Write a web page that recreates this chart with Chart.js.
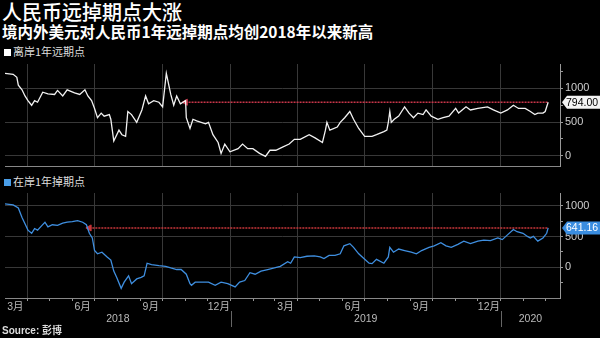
<!DOCTYPE html>
<html>
<head>
<meta charset="utf-8">
<script src="https://cdn.jsdelivr.net/npm/chart.js@4.4.1/dist/chart.umd.min.js"></script>
<style>
  body { margin: 0; background: #000; }
  #wrap { position: relative; width: 600px; height: 338px; background: #000; overflow: hidden;
          font-family: 'Noto Sans CJK SC', sans-serif; color: #fff; }
  .t { position: absolute; left: 2px; white-space: nowrap; }
  #title { top: 0; font-size: 20px; line-height: 24px; font-weight: 500; }
  #sub { top: 22px; font-size: 15.5px; line-height: 18px; font-weight: 700; }
  .leg { font-size: 11px; line-height: 12px; color: #ddd; left: 4px; }
  .leg i { display: inline-block; width: 7px; height: 7px; margin-right: 2px; vertical-align: 0; }
  #src { top: 325px; font-size: 10px; line-height: 12px; font-weight: 700; color: #ddd;
         font-family: 'Liberation Sans', 'Noto Sans CJK SC', sans-serif; }
  canvas { position: absolute; left: 0; }
</style>
</head>
<body>
<div id="wrap">
  <div class="t" id="title">人民币远掉期点大涨</div>
  <div class="t" id="sub">境内外美元对人民币1年远掉期点均创2018年以来新高</div>
  <div class="t leg" style="top:45px"><i style="background:#fff"></i>离岸1年远期点</div>
  <div class="t leg" style="top:175px"><i style="background:#4a9ee8"></i>在岸1年掉期点</div>
  <canvas id="top" width="600" height="112" style="top:59px"></canvas>
  <canvas id="bottom" width="600" height="150" style="top:188px"></canvas>
  <div class="t" id="src">Source: 彭博</div>
</div>
<script>
// x range of the panels
const xStart = '2018-03-02';
const xEnd = '2020-03-21';

// 离岸1年远期点 (offshore)
const offDates = ['2018-03-02','2018-03-13','2018-03-18','2018-03-20','2018-03-25','2018-03-29','2018-04-02','2018-04-07','2018-04-11','2018-04-15','2018-04-22','2018-04-29','2018-05-08','2018-05-12','2018-05-19','2018-05-25','2018-06-04','2018-06-11','2018-06-18','2018-06-22','2018-06-27','2018-07-01','2018-07-05','2018-07-10','2018-07-14','2018-07-21','2018-07-23','2018-07-27','2018-08-03','2018-08-07','2018-08-12','2018-08-15','2018-08-20','2018-08-27','2018-09-03','2018-09-08','2018-09-12','2018-09-19','2018-09-26','2018-10-01','2018-10-06','2018-10-12','2018-10-16','2018-10-20','2018-10-25','2018-11-01','2018-11-02','2018-11-07','2018-11-11','2018-11-16','2018-11-28','2018-12-02','2018-12-08','2018-12-15','2018-12-19','2018-12-24','2018-12-31','2019-01-11','2019-01-17','2019-01-24','2019-01-31','2019-02-09','2019-02-17','2019-02-23','2019-03-03','2019-03-12','2019-03-21','2019-03-28','2019-04-05','2019-04-17','2019-04-25','2019-05-05','2019-05-09','2019-05-11','2019-05-15','2019-05-25','2019-05-29','2019-06-04','2019-06-11','2019-06-16','2019-06-23','2019-07-01','2019-07-11','2019-07-17','2019-07-27','2019-07-31','2019-08-02','2019-08-04','2019-08-06','2019-08-10','2019-08-16','2019-08-20','2019-08-24','2019-08-30','2019-09-05','2019-09-11','2019-09-18','2019-09-22','2019-09-29','2019-10-08','2019-10-15','2019-10-23','2019-11-01','2019-11-05','2019-11-15','2019-11-21','2019-12-01','2019-12-14','2019-12-22','2020-01-01','2020-01-10','2020-01-18','2020-01-25','2020-02-03','2020-02-10','2020-02-16','2020-02-20','2020-02-27','2020-03-01','2020-03-05'];
const offValues = [1221,1208,1162,1047,978,887,818,749,818,794,942,918,909,969,887,978,932,909,978,887,818,702,565,633,588,611,542,220,381,313,289,657,611,496,680,887,771,818,794,726,1221,909,749,887,771,818,565,405,542,519,473,496,313,198,37,175,61,106,175,106,106,37,-8,83,83,129,175,244,244,313,267,198,381,496,381,427,496,565,657,542,405,289,289,313,358,381,496,657,496,542,588,657,726,633,565,633,611,680,588,542,565,588,702,633,726,680,702,726,680,633,680,749,702,702,657,611,633,633,657,794];

// 在岸1年掉期点 (onshore)
const onDates = ['2018-03-02','2018-03-13','2018-03-20','2018-03-25','2018-03-29','2018-04-02','2018-04-07','2018-04-11','2018-04-15','2018-04-21','2018-04-25','2018-04-29','2018-05-05','2018-05-12','2018-05-19','2018-05-25','2018-06-01','2018-06-08','2018-06-15','2018-06-20','2018-06-24','2018-06-28','2018-07-01','2018-07-05','2018-07-11','2018-07-18','2018-07-23','2018-07-27','2018-07-31','2018-08-06','2018-08-10','2018-08-16','2018-08-20','2018-08-27','2018-09-02','2018-09-06','2018-09-10','2018-09-16','2018-09-26','2018-10-05','2018-10-12','2018-10-20','2018-10-26','2018-11-02','2018-11-07','2018-11-09','2018-11-14','2018-11-22','2018-12-02','2018-12-11','2018-12-19','2018-12-28','2019-01-07','2019-01-13','2019-01-20','2019-01-27','2019-02-03','2019-02-11','2019-02-20','2019-03-01','2019-03-09','2019-03-19','2019-03-23','2019-03-28','2019-04-05','2019-04-14','2019-04-24','2019-05-02','2019-05-07','2019-05-14','2019-05-22','2019-05-29','2019-06-03','2019-06-11','2019-06-16','2019-06-23','2019-06-30','2019-07-07','2019-07-11','2019-07-17','2019-07-27','2019-08-02','2019-08-04','2019-08-09','2019-08-16','2019-08-24','2019-09-02','2019-09-09','2019-09-16','2019-09-26','2019-10-03','2019-10-12','2019-10-19','2019-10-26','2019-11-04','2019-11-12','2019-11-21','2019-12-01','2019-12-09','2019-12-18','2019-12-28','2020-01-03','2020-01-10','2020-01-18','2020-01-23','2020-01-31','2020-02-06','2020-02-10','2020-02-14','2020-02-20','2020-02-27','2020-03-03','2020-03-05'];
const onValues = [1032,1016,965,812,708,605,554,631,605,682,734,657,693,682,719,734,744,759,734,693,554,477,273,220,246,169,118,-62,-165,-343,-242,-139,-266,-189,-165,-139,66,42,26,15,-11,-36,-36,-113,-266,-293,-242,-242,-242,-293,-242,-266,-319,-242,-216,-88,-113,-62,-36,-11,15,92,66,169,159,180,185,169,143,195,195,220,350,385,324,220,143,66,60,130,66,169,324,246,297,273,246,220,273,324,350,400,350,324,374,426,385,426,442,436,477,451,528,616,580,554,503,477,503,426,477,554,641.16];

// red reference arrows (2018 high level reached again)
const offArrowDates = ['2018-11-01', '2020-03-05'];
const offArrowValue = 794;
const onArrowDates = ['2018-06-24', '2020-03-05'];
const onArrowValue = 641.16;

// axis labels
const monthLabels = ['3月','6月','9月','12月','3月','6月','9月','12月'];
const monthLabelDates = ['2018-03-16','2018-06-15','2018-09-15','2018-12-16','2019-03-16','2019-06-15','2019-09-15','2019-12-16'];
const yearLabels = ['2018', '2019', '2020'];
const yTicksTop = [0, 250, 500, 750, 1000, 1250];
const yTicksBottom = [-250, 0, 250, 500, 750, 1000];

const BASE = Date.UTC(2018, 0, 1);
function day(s) {
  const [y, m, d] = s.split('-').map(Number);
  return (Date.UTC(y, m - 1, d) - BASE) / 86400000;
}

// month starts inside the range (tick marks), quarters get a grid line
const monthStarts = [];
for (let y = 2018; y <= 2020; y++) {
  for (let m = 1; m <= 12; m++) {
    const v = (Date.UTC(y, m - 1, 1) - BASE) / 86400000;
    if (v > day(xStart) && v < day(xEnd)) monthStarts.push({ v: v, q: (m - 1) % 3 === 0 });
  }
}
const quarterDays = monthStarts.filter(t => t.q).map(t => t.v);

const latin = "'Liberation Sans', 'Noto Sans CJK SC', sans-serif";
const gridColor = '#383838';

function pts(dates, values) {
  return dates.map((d, i) => ({ x: day(d), y: values[i] }));
}

function yAxis(min, max, ticks) {
  return {
    position: 'right', min: min, max: max,
    afterBuildTicks: s => { s.ticks = ticks.map(v => ({ value: v })); },
    afterFit: s => { s.width = 40; s.paddingTop = 0; s.paddingBottom = 0; },
    grid: {
      color: c => (c.tick && c.tick.value % 500 === 0) ? gridColor : 'rgba(0,0,0,0)',
      tickColor: '#999', tickLength: 3
    },
    border: { color: '#999' },
    ticks: {
      autoSkip: false, color: '#ccc', padding: 2,
      font: { family: latin, size: 11 },
      callback: v => v % 500 === 0 ? v : ''
    }
  };
}

function arrowSet(dates, value, color) {
  return {
    data: dates.map(d => ({ x: day(d), y: value })),
    borderColor: color, borderWidth: 1.5, borderDash: [2, 1],
    pointRadius: [3.5, 0], pointStyle: 'triangle', pointRotation: -90,
    pointBorderColor: color, pointBackgroundColor: color, pointBorderWidth: 1
  };
}

// value tag at the right end of the last point
const tagPlugin = {
  id: 'tag',
  afterDraw(chart, args, opts) {
    const d = chart.data.datasets[0].data;
    const last = d[d.length - 1].y;
    const ctx = chart.ctx;
    const y = chart.scales.y.getPixelForValue(last);
    const x0 = chart.scales.y.left + 2;
    ctx.save();
    ctx.fillStyle = opts.bg;
    ctx.beginPath();
    ctx.moveTo(x0, y);
    ctx.lineTo(x0 + 5, y - 6.5);
    ctx.lineTo(chart.width, y - 6.5);
    ctx.lineTo(chart.width, y + 6.5);
    ctx.lineTo(x0 + 5, y + 6.5);
    ctx.closePath();
    ctx.fill();
    ctx.fillStyle = opts.fg;
    ctx.font = '10.5px ' + latin;
    ctx.textBaseline = 'middle';
    ctx.fillText(last.toFixed(2), x0 + 4, y + 0.5);
    ctx.restore();
  }
};

// year row under the month labels
const yearRow = {
  id: 'yearRow',
  afterDraw(chart) {
    const s = chart.scales.x, ctx = chart.ctx, b = chart.chartArea.bottom;
    ctx.save();
    ctx.fillStyle = '#bbb';
    ctx.strokeStyle = '#666';
    ctx.lineWidth = 1;
    ctx.font = '10.5px ' + latin;
    ctx.textAlign = 'center';
    ctx.textBaseline = 'middle';
    yearLabels.forEach(y => {
      const a = Math.max(day(y + '-01-01'), s.min);
      const e = Math.min(day((+y + 1) + '-01-01'), s.max);
      ctx.fillText(y, s.getPixelForValue((a + e) / 2), b + 21);
      if (day(y + '-01-01') > s.min) {
        const px = Math.round(s.getPixelForValue(day(y + '-01-01'))) + 0.5;
        ctx.beginPath();
        ctx.moveTo(px, b + 13);
        ctx.lineTo(px, b + 29);
        ctx.stroke();
      }
    });
    ctx.restore();
  }
};

const common = {
  responsive: false,
  animation: false,
  layout: { padding: 0 },
  plugins: { legend: { display: false }, tooltip: { enabled: false } },
  elements: { line: { tension: 0 }, point: { radius: 0 } }
};

new Chart(document.getElementById('top'), {
  type: 'line',
  data: {
    datasets: [
      { data: pts(offDates, offValues), borderColor: '#f2f2f2', borderWidth: 1.3, pointRadius: 0 },
      arrowSet(offArrowDates, offArrowValue, '#c8364a')
    ]
  },
  options: Object.assign({}, common, {
    plugins: Object.assign({}, common.plugins, { tag: { bg: '#f4f4f4', fg: '#000' } }),
    scales: {
      x: {
        type: 'linear', min: day(xStart), max: day(xEnd),
        afterBuildTicks: s => { s.ticks = quarterDays.map(v => ({ value: v })); },
        afterFit: s => { s.height = 1; s.paddingLeft = 0; s.paddingRight = 0; },
        grid: { color: gridColor, drawTicks: false },
        border: { color: '#888' },
        ticks: { display: false }
      },
      y: yAxis(-150, 1360, yTicksTop)
    }
  }),
  plugins: [tagPlugin]
});

new Chart(document.getElementById('bottom'), {
  type: 'line',
  data: {
    datasets: [
      { data: pts(onDates, onValues), borderColor: '#3f8fe0', borderWidth: 1.3, pointRadius: 0 },
      arrowSet(onArrowDates, onArrowValue, '#c8363a')
    ]
  },
  options: Object.assign({}, common, {
    layout: { padding: { bottom: 25 } },
    plugins: Object.assign({}, common.plugins, { tag: { bg: '#3a8de0', fg: '#fff' } }),
    scales: {
      x: {
        type: 'linear', weight: 0, min: day(xStart), max: day(xEnd),
        afterBuildTicks: s => { s.ticks = monthStarts.map(t => ({ value: t.v })); },
        afterFit: s => { s.height = 1; s.paddingLeft = 0; s.paddingRight = 0; },
        grid: {
          color: c => (c.tick && quarterDays.includes(c.tick.value)) ? gridColor : 'rgba(0,0,0,0)',
          tickColor: '#999', tickLength: 3
        },
        border: { color: '#888' },
        ticks: { display: false }
      },
      xm: {
        type: 'linear', position: 'bottom', weight: 1, min: day(xStart), max: day(xEnd),
        afterBuildTicks: s => { s.ticks = monthLabelDates.map(d => ({ value: day(d) })); },
        afterFit: s => { s.height = 14; s.paddingLeft = 0; s.paddingRight = 0; },
        grid: { display: false, drawTicks: false },
        border: { display: false },
        ticks: {
          autoSkip: false, maxRotation: 0, padding: 2, color: '#bbb',
          font: { family: latin, size: 10.5 },
          callback: (v, i) => monthLabels[i]
        }
      },
      y: yAxis(-500, 1210, yTicksBottom)
    }
  }),
  plugins: [tagPlugin, yearRow]
});
</script>
</body>
</html>
